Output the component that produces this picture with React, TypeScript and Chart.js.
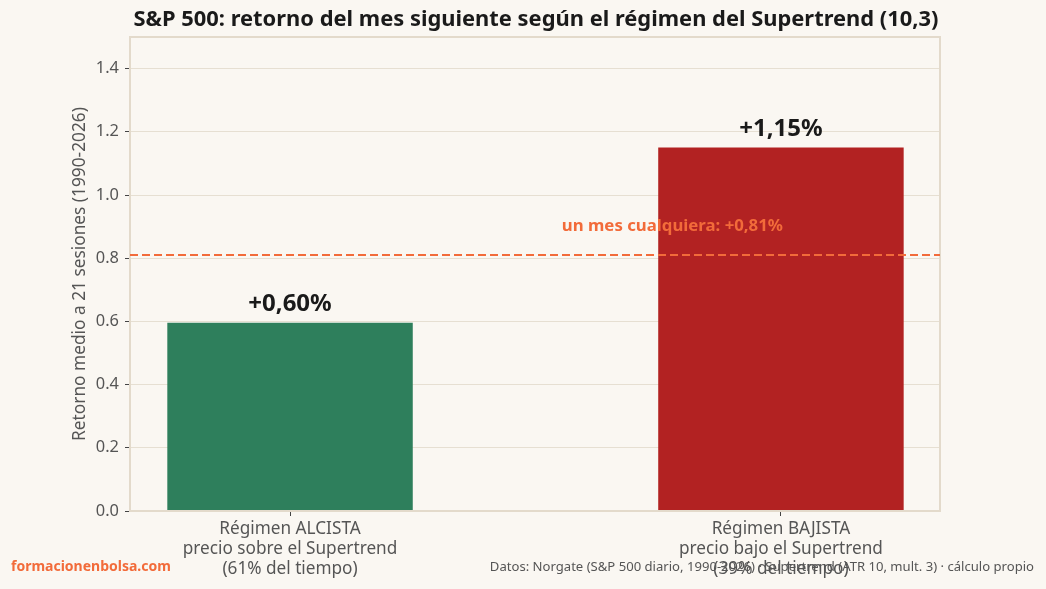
import React, { useEffect, useRef } from "react";
import { Chart, registerables } from "chart.js";

Chart.register(...registerables);

const categoryLines: string[][] = [
  ["Régimen ALCISTA", "precio sobre el Supertrend", "(61% del tiempo)"],
  ["Régimen BAJISTA", "precio bajo el Supertrend", "(39% del tiempo)"],
];
const categoryPositions: number[] = [0, 1];
const returnValues: number[] = [0.596, 1.15];
const valueLabels: string[] = ["+0,60%", "+1,15%"];
const barColors: string[] = ["#2e7f5c", "#b22222"];
const baselineValue = 0.81;
const baselineLabel = "un mes cualquiera: +0,81%";
const yTicks: number[] = [0, 0.2, 0.4, 0.6, 0.8, 1.0, 1.2, 1.4];

const TITLE = "S&P 500: retorno del mes siguiente según el régimen del Supertrend (10,3)";
const Y_TITLE = "Retorno medio a 21 sesiones (1990-2026)";
const BRAND = "formacionenbolsa.com";
const SOURCE = "Datos: Norgate (S&P 500 diario, 1990-2026) · Supertrend (ATR 10, mult. 3) · cálculo propio";

const FONT = "'Noto Sans', 'Open Sans', sans-serif";
const BG = "#faf7f2";
const GRID = "#e6dfd2";
const TEXT = "#555555";
const ORANGE = "#f26b3a";

const overlayPlugin = {
  id: "overlay",
  beforeDraw(chart: any) {
    const { ctx, width, height } = chart;
    ctx.save();
    ctx.fillStyle = BG;
    ctx.fillRect(0, 0, width, height);
    ctx.restore();
  },
  afterDraw(chart: any) {
    const { ctx, chartArea } = chart;
    const xs = chart.scales.x;
    const ys = chart.scales.y;
    ctx.save();
    // frame
    ctx.strokeStyle = "#e3dacb";
    ctx.lineWidth = 2;
    ctx.strokeRect(chartArea.left, chartArea.top, chartArea.right - chartArea.left, chartArea.bottom - chartArea.top);

    // baseline dashed line
    const yb = ys.getPixelForValue(baselineValue);
    ctx.strokeStyle = ORANGE;
    ctx.lineWidth = 2;
    ctx.setLineDash([8, 4]);
    ctx.beginPath();
    ctx.moveTo(chartArea.left, yb);
    ctx.lineTo(chartArea.right, yb);
    ctx.stroke();
    ctx.setLineDash([]);

    // baseline label
    ctx.fillStyle = ORANGE;
    ctx.font = `bold 16.8px ${FONT}`;
    ctx.textAlign = "right";
    ctx.textBaseline = "middle";
    ctx.fillText(baselineLabel, xs.getPixelForValue(1.0) + 2, ys.getPixelForValue(0.9));

    // value labels
    const meta = chart.getDatasetMeta(0);
    ctx.fillStyle = "#1a1a1a";
    ctx.font = `bold 24px ${FONT}`;
    ctx.textAlign = "center";
    ctx.textBaseline = "alphabetic";
    meta.data.forEach((bar: any, i: number) => {
      ctx.fillText(valueLabels[i], bar.x, bar.y - 12);
    });

    // title
    ctx.fillStyle = "#1a1a1a";
    ctx.font = `bold 21.9px ${FONT}`;
    ctx.textAlign = "center";
    ctx.textBaseline = "middle";
    ctx.fillText(TITLE, (chartArea.left + chartArea.right) / 2 + 1, 20);

    // y title
    ctx.save();
    ctx.translate(80, (chartArea.top + chartArea.bottom) / 2);
    ctx.rotate(-Math.PI / 2);
    ctx.fillStyle = TEXT;
    ctx.font = `17.3px ${FONT}`;
    ctx.textAlign = "center";
    ctx.textBaseline = "middle";
    ctx.fillText(Y_TITLE, 0, 0);
    ctx.restore();

    // footer
    ctx.textBaseline = "middle";
    ctx.textAlign = "left";
    ctx.fillStyle = ORANGE;
    ctx.font = `bold 14px ${FONT}`;
    ctx.fillText(BRAND, 11, 567);
    ctx.textAlign = "right";
    ctx.fillStyle = TEXT;
    ctx.font = `13.1px ${FONT}`;
    ctx.fillText(SOURCE, 1034, 567);
    ctx.restore();
  },
};

export default function App() {
  const ref = useRef<HTMLCanvasElement | null>(null);
  useEffect(() => {
    document.body.style.margin = "0";
    document.body.style.background = BG;
    const canvas = ref.current!;
    const chart = new Chart(canvas, {
      type: "bar",
      data: {
        datasets: [
          {
            data: categoryPositions.map((x, i) => ({ x, y: returnValues[i] })),
            backgroundColor: barColors,
            borderWidth: 0,
            barPercentage: 0.5,
            categoryPercentage: 1,
          },
        ],
      },
      options: {
        responsive: false,
        animation: false,
        devicePixelRatio: 1,
        layout: { padding: { left: 0, right: 106, top: 37, bottom: 0 } },
        plugins: { legend: { display: false }, tooltip: { enabled: false }, title: { display: false } },
        scales: {
          x: {
            type: "linear",
            min: -0.326,
            max: 1.324,
            offset: false,
            afterBuildTicks: (scale: any) => {
              scale.ticks = categoryPositions.map((v) => ({ value: v }));
            },
            afterFit: (scale: any) => {
              scale.height = 78;
            },
            grid: { display: true, offset: false, drawOnChartArea: false, drawTicks: true, tickLength: 5, tickColor: "#444", tickWidth: 1 },
            border: { display: false },
            ticks: {
              autoSkip: false,
              maxRotation: 0,
              padding: 3,
              color: TEXT,
              font: { family: FONT, size: 17.2, lineHeight: 1.17 },
              callback: (v: any) => categoryLines[categoryPositions.indexOf(Number(v))] ?? "",
            },
          },
          y: {
            min: 0,
            max: 1.5,
            z: 1,
            afterBuildTicks: (scale: any) => {
              scale.ticks = yTicks.map((v) => ({ value: v }));
            },
            afterFit: (scale: any) => {
              scale.width = 130;
            },
            grid: { color: GRID, lineWidth: 1, drawTicks: true, tickLength: 5, tickColor: "#444" },
            border: { display: false },
            ticks: {
              padding: 6,
              color: TEXT,
              font: { family: FONT, size: 16.4 },
              callback: (v: any) => Number(v).toFixed(1),
            },
          },
        },
      },
      plugins: [overlayPlugin],
    } as any);
    return () => chart.destroy();
  }, []);
  return (
    <div style={{ width: 1046, height: 589 }}>
      <canvas ref={ref} width={1046} height={589} style={{ display: "block", width: 1046, height: 589 }} />
    </div>
  );
}
